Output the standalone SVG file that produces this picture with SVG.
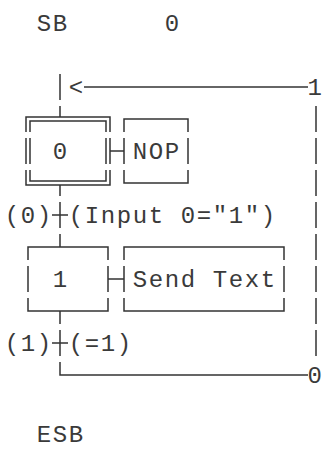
<svg xmlns="http://www.w3.org/2000/svg" width="322" height="449" viewBox="0 0 322 449">
<style>
.ln{stroke:#333;stroke-width:1.5;fill:none}
.t{font-family:"Liberation Mono","DejaVu Sans Mono",monospace;font-size:24px;letter-spacing:1.6px;fill:#3a3a3a}
.e{letter-spacing:0}
</style>
<rect width="322" height="449" fill="#fff"/>
<g id="header">
<text class="t" x="36.8" y="31">SB</text>
<text class="t" x="164.8" y="31">0</text>
</g>
<g id="connectors">
<path class="ln" d="M60 74V100M60 106V117M60 185V196M60 202V228M52 215H68M60 234V247M60 311V324M60 330V356M52 343H68M60 362V375H308"/>
<path class="ln" d="M84 87H308"/>
<path class="ln" d="M316 106V132M316 138V164M316 170V196M316 202V228M316 234V260M316 266V292M316 298V324M316 330V356"/>
<path class="ln" d="M110 151H124M108 279H124"/>
<text class="t" x="68.8" y="95">&lt;</text>
<text class="t e" x="307.5" y="95">1</text>
<text class="t e" x="307.5" y="383">0</text>
</g>
<g id="step0">
<path class="ln" d="M26 132V117H110V132M30 132V121H106V132M26 138V164M30 138V164M106 138V164M110 138V164M26 170V185H110V170M30 170V181H106V170"/>
<text class="t" x="52.8" y="159">0</text>
</g>
<g id="action0">
<path class="ln" d="M124 132V119H188V132M124 138V164M188 138V164M124 170V183H188V170"/>
<text class="t" x="132.8" y="159">NOP</text>
</g>
<g id="transition0">
<text class="t" x="4.8" y="223">(0)</text>
<text class="t" x="68.8" y="223">(Input 0="1")</text>
</g>
<g id="step1">
<path class="ln" d="M28 260V247H108V260M28 266V292M108 266V292M28 298V311H108V298"/>
<text class="t" x="52.8" y="287">1</text>
</g>
<g id="action1">
<path class="ln" d="M124 260V247H284V260M124 266V292M284 266V292M124 298V311H284V298"/>
<text class="t" x="132.8" y="287">Send Text</text>
</g>
<g id="transition1">
<text class="t" x="4.8" y="351">(1)</text>
<text class="t" x="68.8" y="351">(=1)</text>
</g>
<g id="footer">
<text class="t" x="36.8" y="442">ESB</text>
</g>
</svg>
